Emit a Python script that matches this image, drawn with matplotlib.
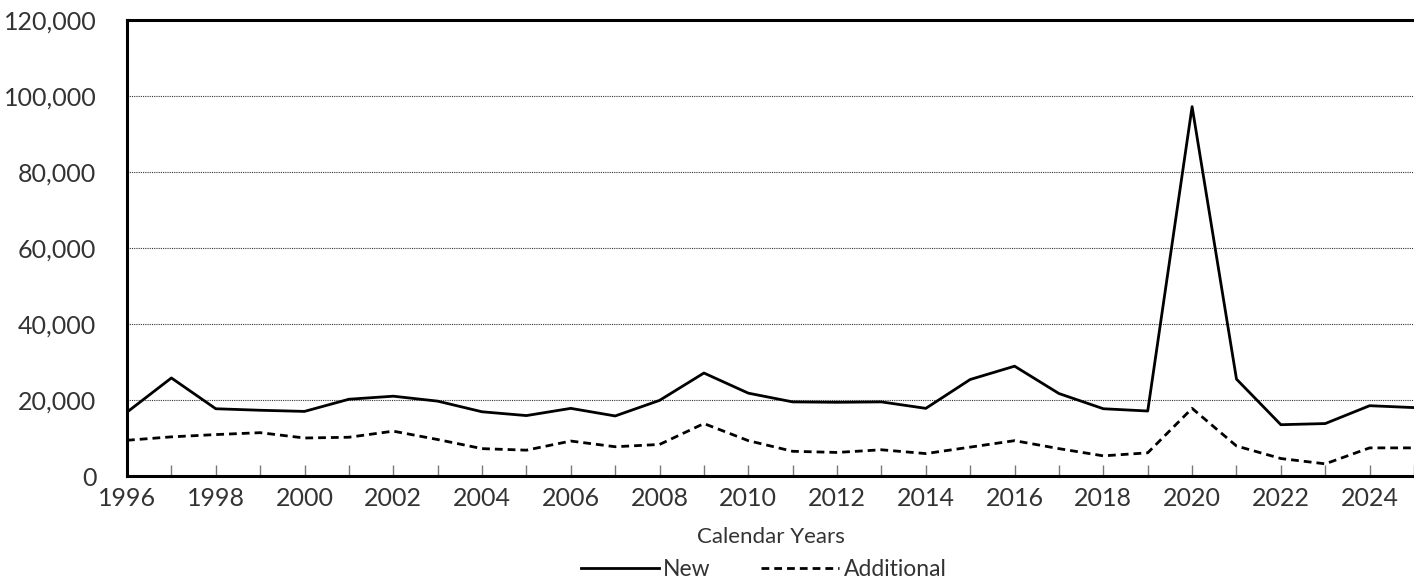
import matplotlib
matplotlib.use("Agg")
import matplotlib.pyplot as plt
from matplotlib.ticker import FuncFormatter, MultipleLocator

years = list(range(1996, 2026))
new_vals = [16800, 25800, 17700, 17300, 17000, 20200, 21000, 19700, 16900, 15900,
            17800, 15800, 19900, 27100, 21800, 19500, 19400, 19500, 17800, 25400,
            28900, 21700, 17700, 17100, 97200, 25500, 13500, 13800, 18500, 18000]
additional_vals = [9400, 10300, 10900, 11400, 10000, 10200, 11800, 9600, 7200, 6800,
                   9200, 7700, 8300, 13800, 9300, 6500, 6200, 6900, 5900, 7600,
                   9300, 7200, 5300, 6100, 17800, 7900, 4600, 3200, 7400, 7400]
series_labels = ["New", "Additional"]
x_label = "Calendar Years"

plt.rcParams['font.family'] = ['Lato', 'DejaVu Sans']
txt_color = '#333333'

fig = plt.figure(figsize=(14.14, 5.83), dpi=100)
ax = fig.add_axes([127/1414, 1 - 476/583, 1 - 127/1414, (476 - 20)/583])

ax.plot(years, new_vals, color='black', lw=2.0, label=series_labels[0])
ax.plot(years, additional_vals, color='black', lw=2.0, dashes=(2.8, 1.8), label=series_labels[1])

ax.set_xlim(1996, 2025)
ax.set_ylim(0, 120000)
ax.yaxis.set_major_locator(MultipleLocator(20000))
ax.yaxis.set_major_formatter(FuncFormatter(lambda v, p: f"{int(v):,}"))
ax.xaxis.set_major_locator(MultipleLocator(2))
ax.xaxis.set_minor_locator(MultipleLocator(1))

ax.grid(axis='y', which='major', color='#333333', lw=0.8, ls=(0, (1, 1)))
ax.set_axisbelow(True)

for s in ['top', 'left', 'bottom']:
    ax.spines[s].set_linewidth(2.2)
    ax.spines[s].set_color('black')
ax.spines['right'].set_visible(False)

ax.tick_params(axis='x', which='both', direction='in', length=8, width=1, color='#777777',
               labelsize=18, pad=8, labelcolor=txt_color)
ax.tick_params(axis='y', which='both', length=0, labelsize=18, pad=22, labelcolor=txt_color)

ax.set_xlabel(x_label, fontsize=16, color=txt_color, labelpad=12)

leg = fig.legend(loc='lower center', bbox_to_anchor=(0.54, -0.03), ncol=2, frameon=False,
                 fontsize=16.5, handlelength=3.4, handletextpad=0.2, columnspacing=2.2)
for t in leg.get_texts():
    t.set_color(txt_color)

fig.savefig("out.png", dpi=100)
